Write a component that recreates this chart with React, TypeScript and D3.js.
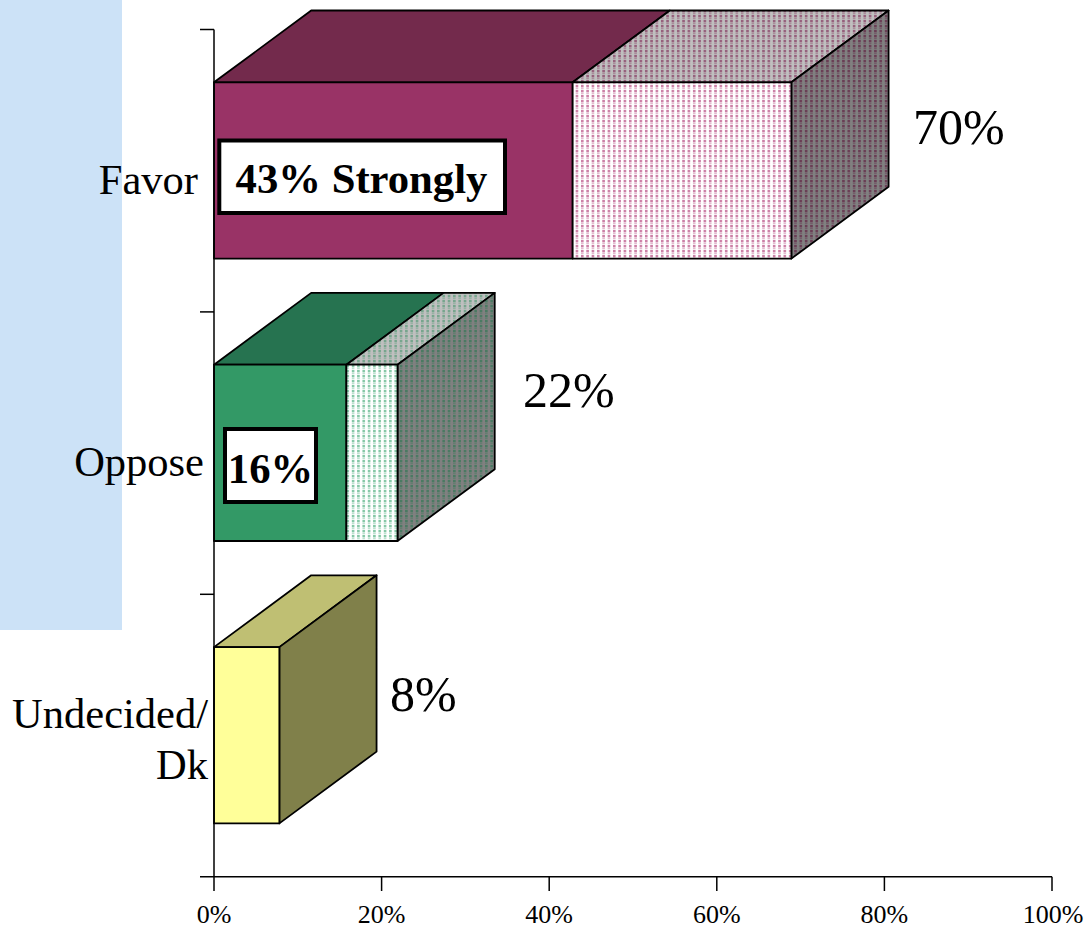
import React from "react";
import * as d3 from "d3";

const categories = ["Favor", "Oppose", "Undecided/Dk"];
const strongly = [42.8, 15.8, 7.8];
const somewhat = [26.1, 6.1, 0];
const totalLabels = ["70%", "22%", "8%"];
const boxLabels = ["43% Strongly", "16%", ""];
const xTicks = [0, 20, 40, 60, 80, 100];
const solidColors = ["#993366", "#339966", "#ffff99"];
const solidTops = ["#732a4c", "#267350", "#bfbf73"];
const solidSides = ["#4d1a33", "#1a4d33", "#80804a"];

const SERIF = "'Liberation Serif', serif";
const DX = 97.2;
const DY = -71.8;
const W = 1085;
const H = 928;

const x = d3.scaleLinear().domain([0, 100]).range([214, 1052]);
const yBand = d3.scaleBand().domain(categories).range([29.5, 876.7]).padding(0);
const BAR_TOP = 52.8;
const BAR_H = 176.3;

const quad = (x0: number, x1: number, y: number) =>
  d3.line()([
    [x0, y],
    [x1, y],
    [x1 + DX, y + DY],
    [x0 + DX, y + DY],
  ]) + "Z";
const side = (x1: number, y: number) =>
  d3.line()([
    [x1, y],
    [x1 + DX, y + DY],
    [x1 + DX, y + DY + BAR_H],
    [x1, y + BAR_H],
  ]) + "Z";

function Dots({ id, bg, fg }: { id: string; bg: string; fg: string }) {
  return (
    <pattern id={id} width={5.33} height={5} patternUnits="userSpaceOnUse">
      <rect width={5.33} height={5} fill={bg} />
      <rect x={0} y={0} width={2.6} height={2.2} fill={fg} />
      <rect x={0} y={2.5} width={2.6} height={1.8} fill={fg} opacity={0.55} />
    </pattern>
  );
}

const totalPos = [
  { x: 913, y: 144 },
  { x: 523, y: 407 },
  { x: 390, y: 711 },
];
const boxPos = [
  { x: 219.3, y: 140.5, w: 285.7, h: 72.5, tx: 361.5, ty: 193 },
  { x: 225, y: 429, w: 91, h: 73, tx: 270.5, ty: 483 },
];

export default function App() {
  return (
    <svg
      width={W}
      height={H}
      viewBox={`0 0 ${W} ${H}`}
      style={{ position: "absolute", left: 0, top: 0, background: "#fff" }}
    >
      <defs>
        <Dots id="f0" bg="#ffffff" fg="#cc80a6" />
        <Dots id="t0" bg="#bfbfbf" fg="#96607c" />
        <Dots id="s0" bg="#808080" fg="#6a3e55" />
        <Dots id="f1" bg="#ffffff" fg="#85c7a6" />
        <Dots id="t1" bg="#bfbfbf" fg="#76a58d" />
        <Dots id="s1" bg="#808080" fg="#4a7a62" />
      </defs>
      <rect x={0} y={0} width={122} height={630} fill="#cce2f7" />

      {categories.map((c, i) => {
        const y = (yBand(c) as number) + BAR_TOP;
        const x0 = x(0);
        const x1 = x(strongly[i]);
        const x2 = x(strongly[i] + somewhat[i]);
        const hasRest = somewhat[i] > 0;
        const common = { stroke: "#000", strokeWidth: 1.8, strokeLinejoin: "round" as const };
        return (
          <g key={c}>
            <path d={quad(x0, x1, y)} fill={solidTops[i]} {...common} />
            {hasRest && <path d={quad(x1, x2, y)} fill={`url(#t${i})`} {...common} />}
            <path d={side(x2, y)} fill={hasRest ? `url(#s${i})` : solidSides[i]} {...common} />
            <rect x={x0} y={y} width={x1 - x0} height={BAR_H} fill={solidColors[i]} {...common} />
            {hasRest && (
              <rect x={x1} y={y} width={x2 - x1} height={BAR_H} fill={`url(#f${i})`} {...common} />
            )}
          </g>
        );
      })}

      <g stroke="#000" strokeWidth={1.5} fill="none">
        <line x1={214} x2={214} y1={29.5} y2={876.7} />
        <line x1={200} x2={1052} y1={876.7} y2={876.7} />
        {categories.map((c) => {
          const t = yBand(c) as number;
          return <line key={c} x1={200} x2={214} y1={t} y2={t} />;
        })}
        {xTicks.map((t) => (
          <line key={t} x1={x(t)} x2={x(t)} y1={876.7} y2={891} />
        ))}
      </g>

      <g fontFamily={SERIF} fontSize={26} textAnchor="middle" fill="#000">
        {xTicks.map((t) => (
          <text key={t} x={x(t) + (t === 100 ? 1 : 0)} y={923}>
            {t}%
          </text>
        ))}
      </g>

      <g fontFamily={SERIF} fontSize={42.5} textAnchor="end" fill="#000">
        <text x={198} y={194}>{categories[0]}</text>
        <text x={204} y={476}>{categories[1]}</text>
        <text x={208} y={728}>Undecided/</text>
        <text x={208} y={779}>Dk</text>
      </g>

      <g fontFamily={SERIF} fontSize={50} fill="#000">
        {totalLabels.map((t, i) => (
          <text key={t} x={totalPos[i].x} y={totalPos[i].y}>
            {t}
          </text>
        ))}
      </g>

      {boxPos.map((b, i) => (
        <g key={i}>
          <rect x={b.x} y={b.y} width={b.w} height={b.h} fill="#fff" stroke="#000" strokeWidth={4} />
          <text
            x={b.tx}
            y={b.ty}
            fontFamily={SERIF}
            fontSize={42.7}
            fontWeight="bold"
            textAnchor="middle"
            fill="#000"
          >
            {boxLabels[i]}
          </text>
        </g>
      ))}
    </svg>
  );
}
